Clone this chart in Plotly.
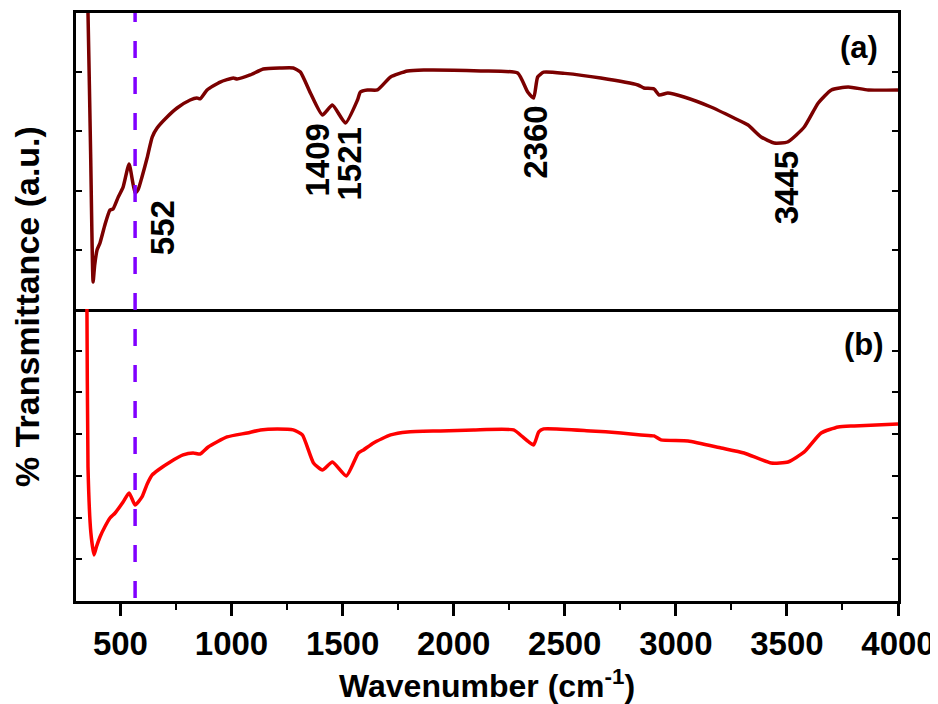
import plotly.graph_objects as go

# ---------------- data ----------------
top_wn = [346, 354, 366, 377, 384, 395, 408, 430, 453, 467, 490, 512, 539, 566, 580, 597, 620, 643, 665,
          710, 755, 814, 844, 859, 890, 949, 1008, 1025, 1084, 1143, 1220, 1278, 1310, 1355, 1409, 1454,
          1513, 1567, 1580, 1612, 1657, 1716, 1792, 1865, 2122, 2288, 2333, 2360, 2378, 2405, 2500, 2662,
          2829, 2856, 2902, 2925, 2964, 3037, 3158, 3262, 3325, 3384, 3443, 3503, 3578, 3641, 3700, 3776,
          3866, 4000]
top_val = [6.0, 5.0, 2.6, 0.456, 0.74, 1.0, 1.115, 1.42, 1.672, 1.69, 1.89, 2.06, 2.45, 1.96, 2.02, 2.23,
           2.55, 2.905, 3.057, 3.243, 3.395, 3.53, 3.564, 3.55, 3.70, 3.834, 3.902, 3.885, 3.953, 4.054,
           4.07, 4.07, 4.003, 3.649, 3.277, 3.446, 3.142, 3.53, 3.666, 3.70, 3.70, 3.919, 4.02, 4.037,
           4.02, 3.986, 3.666, 3.564, 3.919, 4.0, 3.98, 3.902, 3.784, 3.733, 3.716, 3.615, 3.649, 3.581,
           3.412, 3.226, 3.108, 2.905, 2.804, 2.821, 3.074, 3.48, 3.70, 3.75, 3.70, 3.70]

bot_wn = [345, 349, 354, 367, 381, 392, 408, 430, 453, 476, 512, 539, 566, 597, 620, 643, 670, 724, 782,
          827, 859, 895, 980, 1071, 1130, 1206, 1278, 1319, 1369, 1409, 1454, 1517, 1571, 1594, 1639,
          1716, 1792, 1941, 2090, 2270, 2311, 2338, 2360, 2383, 2405, 2617, 2753, 2843, 2902, 2933, 3055,
          3204, 3307, 3429, 3505, 3578, 3654, 3731, 3803, 4000]
bot_val = [9.0, 7.3, 3.213, 1.631, 1.103, 1.3, 1.535, 1.78, 1.990, 2.110, 2.374, 2.590, 2.302, 2.494, 2.8,
           3.022, 3.141, 3.333, 3.501, 3.549, 3.525, 3.693, 3.933, 4.029, 4.101, 4.125, 4.101, 3.981,
           3.309, 3.141, 3.333, 2.998, 3.549, 3.621, 3.789, 3.981, 4.053, 4.077, 4.101, 4.101, 3.933,
           3.813, 3.741, 4.053, 4.125, 4.077, 4.029, 3.981, 3.957, 3.861, 3.837, 3.669, 3.549, 3.309,
           3.333, 3.573, 4.029, 4.173, 4.197, 4.245]

peak_labels = ["552", "1409", "1521", "2360", "3445"]
peak_x = [688, 1387, 1531, 2365, 3497]
peak_y = [1.368, 2.517, 2.449, 2.821, 2.044]

ref_line_wn = 566
x_ticks = [500, 1000, 1500, 2000, 2500, 3000, 3500, 4000]

FONT = "Liberation Sans, Arial, Helvetica, sans-serif"

fig = go.Figure()
fig.add_trace(go.Scatter(x=top_wn, y=top_val, mode="lines", xaxis="x", yaxis="y",
                         line=dict(color="#7B0000", width=3.5, shape="spline", smoothing=0.5),
                         showlegend=False, hoverinfo="skip"))
fig.add_trace(go.Scatter(x=bot_wn, y=bot_val, mode="lines", xaxis="x2", yaxis="y2",
                         line=dict(color="#FF0000", width=3.5, shape="spline", smoothing=0.5),
                         showlegend=False, hoverinfo="skip"))

# plot area (page px): left 76, right 898, top 13, bottom 601; page body offset ~8px
split = (601 - 309) / 588.0

common_y = dict(showline=True, linecolor="black", linewidth=2.5, mirror="ticks", ticks="inside",
                ticklen=6, tickwidth=2, tickcolor="black", showticklabels=False, showgrid=False,
                zeroline=False, dtick=1, automargin=False)

fig.update_layout(
    width=930, height=696,
    margin=dict(l=68, r=40, t=5, b=103, autoexpand=False),
    paper_bgcolor="white", plot_bgcolor="white",
    font=dict(family=FONT, color="black", size=33, weight="bold"),
    xaxis=dict(domain=[0, 1], anchor="y", range=[300, 4000], showline=True, linecolor="black",
               linewidth=2.5, mirror=True, ticks="", showticklabels=False, showgrid=False,
               zeroline=False, automargin=False),
    yaxis=dict(domain=[split, 1], anchor="x", range=[0, 5], **common_y),
    xaxis2=dict(domain=[0, 1], anchor="y2", range=[300, 4000], matches="x", showline=True,
                linecolor="black", linewidth=2.5, mirror=False, ticks="outside", ticklen=12,
                tickwidth=2.5, tickcolor="black", tickvals=x_ticks, automargin=False,
                tickfont=dict(family=FONT, size=33, color="black", weight="bold"),
                minor=dict(ticks="outside", ticklen=6, tickwidth=2, tickcolor="black", dtick=250,
                           tick0=250, showgrid=False),
                showgrid=False, zeroline=False),
    yaxis2=dict(domain=[0, split], anchor="x2", range=[0, 7], **common_y),
)

# x title
fig.add_annotation(text="Wavenumber (cm<sup>-1</sup>)", xref="paper", yref="paper", x=0.5, y=-0.141,
                   xanchor="center", yanchor="middle", showarrow=False,
                   font=dict(family=FONT, size=32, color="black", weight="bold"))

# shared y title
fig.add_annotation(text="% Transmittance (a.u.)", xref="paper", yref="paper", x=-0.0596, y=0.5,
                   xanchor="center", yanchor="middle", textangle=-90, showarrow=False,
                   font=dict(family=FONT, size=34, color="black", weight="bold"))

for lab, px, py in zip(peak_labels, peak_x, peak_y):
    fig.add_annotation(text=lab, x=px, y=py, xref="x", yref="y", textangle=-90, showarrow=False,
                       xanchor="center", yanchor="middle",
                       font=dict(family=FONT, size=33, color="black", weight="bold"))

fig.add_annotation(text="(a)", x=3826, y=4.409, xref="x", yref="y", showarrow=False,
                   font=dict(family=FONT, size=31, color="black", weight="bold"))
fig.add_annotation(text="(b)", x=3848, y=6.139, xref="x2", yref="y2", showarrow=False,
                   font=dict(family=FONT, size=31, color="black", weight="bold"))

fig.add_shape(type="line", xref="x", yref="paper", x0=ref_line_wn, x1=ref_line_wn, y0=0.005, y1=1,
              line=dict(color="#8000FF", width=3.5, dash="17px,19px"))

fig.write_html("out.html")
